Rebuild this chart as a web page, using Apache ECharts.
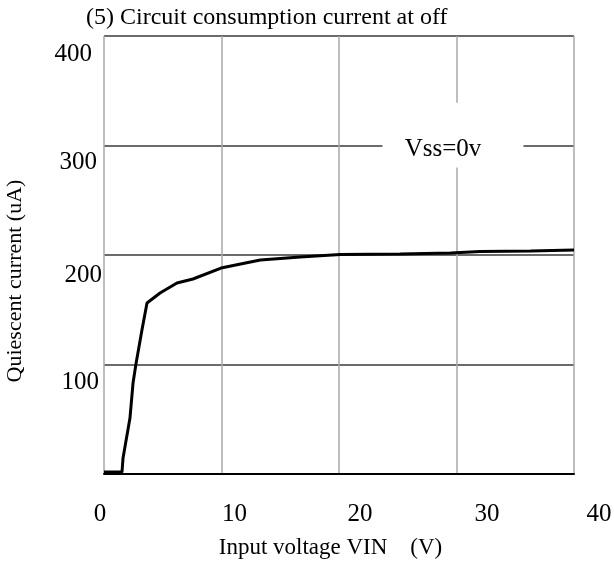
<!DOCTYPE html>
<html>
<head>
<meta charset="utf-8">
<script src="https://cdn.jsdelivr.net/npm/echarts@6/dist/echarts.min.js"></script>
<style>
  html, body { margin: 0; padding: 0; background: #fff; }
  #chart { width: 614px; height: 570px; }
</style>
</head>
<body>
<div id="chart"></div>
<script>
// Input voltage VIN (V) and the matching quiescent current (uA)
const vinVolts = [0, 1.53, 1.62, 2.21, 2.47, 2.72, 3.23, 3.66, 4.77, 6.21, 7.57, 9.96, 13.3, 16.7, 20.1, 25.2, 29.5, 32.0, 36.3, 40];
const currentUA = [1.8, 1.8, 14.6, 51.1, 83.1, 100.5, 131.5, 156.2, 165.3, 174.4, 178.1, 188.1, 195.4, 198.2, 200.5, 200.9, 201.8, 203.2, 203.7, 204.6];

const xTicks = [0, 10, 20, 30, 40];
const yTicks = [100, 200, 300, 400];

const FONT = '"Liberation Serif", "Times New Roman", serif';

// per-label nudges so the tick numbers sit where the printed sheet puts them
const xLabelPad = { 0: [0, 8, 0, 0], 10: [0, 0, 0, 26], 20: [0, 0, 0, 42], 30: [0, 0, 0, 61], 40: [0, 0, 0, 50] };
const yLabelPad = { 100: [36, 3, 0, 0], 200: [40, 0, 0, 0], 300: [34, 5, 0, 0], 400: [37, 10, 0, 0] };

const xRich = {}, yRich = {};
xTicks.forEach(function (t) { xRich['x' + t] = { padding: xLabelPad[t], fontFamily: FONT, fontSize: 25, color: '#000' }; });
yTicks.forEach(function (t) { yRich['y' + t] = { padding: yLabelPad[t], fontFamily: FONT, fontSize: 25, color: '#000' }; });

const chart = echarts.init(document.getElementById('chart'), null, { renderer: 'canvas' });

chart.setOption({
  animation: false,
  backgroundColor: '#fff',
  title: {
    text: '(5) Circuit consumption current at off',
    left: 86,
    top: 6,
    padding: 0,
    textStyle: { fontFamily: FONT, fontSize: 24, fontWeight: 'normal', color: '#000' }
  },
  grid: { left: 104, right: 40, top: 36, bottom: 96, outerBoundsMode: 'none' },
  xAxis: {
    type: 'value',
    min: 0,
    max: 40,
    interval: 10,
    name: 'Input voltage VIN    (V)',
    nameLocation: 'middle',
    nameGap: 62,
    nameTextStyle: { fontFamily: FONT, fontSize: 23, color: '#000', padding: [0, 17, 0, 0] },
    axisLine: { show: true, onZero: false, lineStyle: { color: '#000', width: 2 } },
    axisTick: { show: false },
    axisLabel: {
      margin: 28,
      formatter: function (v) { return '{x' + v + '|' + v + '}'; },
      rich: xRich
    },
    splitLine: { show: true, lineStyle: { color: '#a8a8a8', width: 1.5 } }
  },
  yAxis: {
    type: 'value',
    min: 0,
    max: 400,
    interval: 100,
    name: 'Quiescent current (uA)',
    nameLocation: 'middle',
    nameGap: 78,
    nameRotate: 90,
    nameTextStyle: { fontFamily: FONT, fontSize: 22, color: '#000', padding: [0, 52, 0, 0] },
    axisLine: { show: false },
    axisTick: { show: false },
    axisLabel: {
      margin: 2,
      formatter: function (v) { return v === 0 ? '' : '{y' + v + '|' + v + '}'; },
      rich: yRich
    },
    splitLine: { show: true, lineStyle: { color: '#3a3a3a', width: 1.5 } }
  },
  series: [{
    type: 'line',
    data: vinVolts.map(function (v, i) { return [v, currentUA[i]]; }),
    showSymbol: false,
    smooth: false,
    lineStyle: { color: '#000', width: 3 },
    z: 5,
    markArea: {
      silent: true,
      itemStyle: { color: '#fff' },
      label: {
        show: true,
        position: 'inside',
        offset: [-10, 14],
        formatter: 'Vss=0v',
        fontFamily: FONT,
        fontSize: 25,
        color: '#000'
      },
      data: [[{ coord: [23.7, 339] }, { coord: [35.7, 280] }]]
    }
  }]
});
</script>
</body>
</html>
